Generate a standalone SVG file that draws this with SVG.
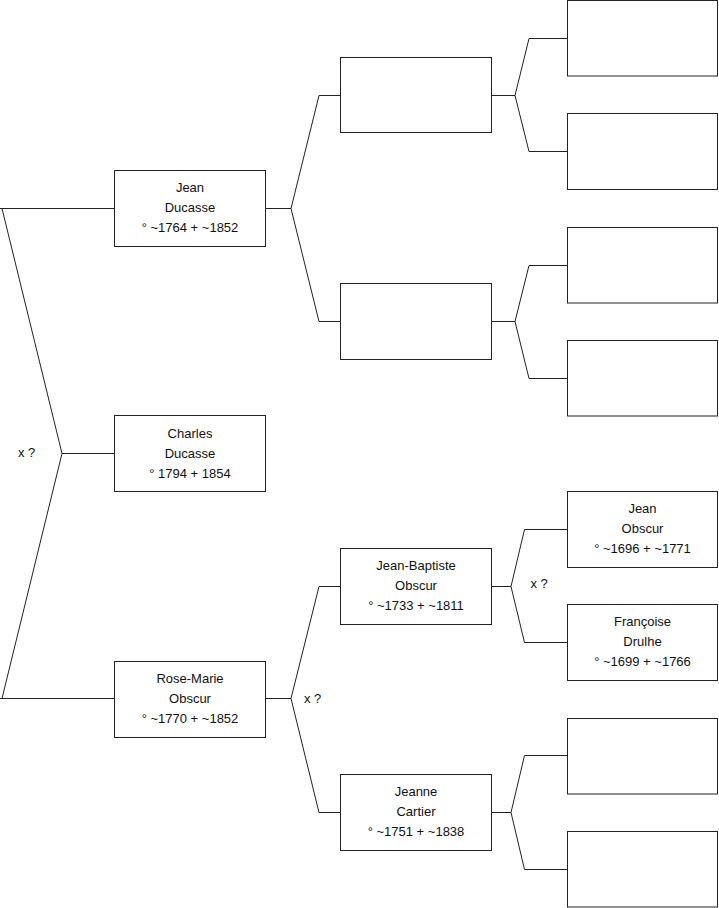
<svg xmlns="http://www.w3.org/2000/svg" width="719" height="908" viewBox="0 0 719 908">
<style>
.box{fill:#fff;stroke:#222;stroke-width:1}
.con{fill:none;stroke:#222;stroke-width:1}
text{font-family:"Liberation Sans",Arial,sans-serif;font-size:13px;fill:#111}
.c{text-anchor:middle}
</style>
<rect width="719" height="908" fill="#fff"/>
<g id="connectors">
<path class="con" d="M114.5,208.5 H0 M2,208.5 L62,453.5 L2,698.5 M0,698.5 H114.5 M62,453.5 H114.5"/>
<path class="con" d="M265.5,208.5 H291 M340.5,95.5 H319 L291,208.5 L319,321.5 H340.5"/>
<path class="con" d="M265.5,698.5 H291 M340.5,586.5 H319 L291,698.5 L319,812.5 H340.5"/>
<path class="con" d="M491.5,95.5 H515 M567.5,38.5 H529 L515,95.5 L529,151.5 H567.5"/>
<path class="con" d="M491.5,321.5 H515 M567.5,265.5 H529 L515,321.5 L529,378.5 H567.5"/>
<path class="con" d="M491.5,586.5 H511 M567.5,529.5 H524.5 L511,586.5 L524.5,642.5 H567.5"/>
<path class="con" d="M491.5,812.5 H511 M567.5,755.5 H524.5 L511,812.5 L524.5,869.5 H567.5"/>
<text x="18" y="457">x ?</text>
<text x="304" y="702.5">x ?</text>
<text x="530.5" y="587.5">x ?</text>
</g>
<g id="n-charles">
<rect class="box" x="114.5" y="415.5" width="151" height="76"/>
<text class="c" x="190" y="437.5">Charles</text>
<text class="c" x="190" y="457.5">Ducasse</text>
<text class="c" x="190" y="477.5">° 1794 + 1854</text>
</g>
<g id="n-jean-ducasse">
<rect class="box" x="114.5" y="170.5" width="151" height="76"/>
<text class="c" x="190" y="191.5">Jean</text>
<text class="c" x="190" y="211.5">Ducasse</text>
<text class="c" x="190" y="231.5">° ~1764 + ~1852</text>
</g>
<g id="n-rose-marie">
<rect class="box" x="114.5" y="661.5" width="151" height="76"/>
<text class="c" x="190" y="682.5">Rose-Marie</text>
<text class="c" x="190" y="702.5">Obscur</text>
<text class="c" x="190" y="722.5">° ~1770 + ~1852</text>
</g>
<g id="n-jd-father"><rect class="box" x="340.5" y="57.5" width="151" height="75"/></g>
<g id="n-jd-mother"><rect class="box" x="340.5" y="283.5" width="151" height="76"/></g>
<g id="n-jean-baptiste">
<rect class="box" x="340.5" y="548.5" width="151" height="76"/>
<text class="c" x="416" y="569.5">Jean-Baptiste</text>
<text class="c" x="416" y="589.5">Obscur</text>
<text class="c" x="416" y="609.5">° ~1733 + ~1811</text>
</g>
<g id="n-jeanne">
<rect class="box" x="340.5" y="774.5" width="151" height="76"/>
<text class="c" x="416" y="795.5">Jeanne</text>
<text class="c" x="416" y="815.5">Cartier</text>
<text class="c" x="416" y="835.5">° ~1751 + ~1838</text>
</g>
<g id="n-g3-1"><rect class="box" x="567.5" y="0.5" width="150" height="75.5"/></g>
<g id="n-g3-2"><rect class="box" x="567.5" y="113.5" width="150" height="76"/></g>
<g id="n-g3-3"><rect class="box" x="567.5" y="227.5" width="150" height="75.5"/></g>
<g id="n-g3-4"><rect class="box" x="567.5" y="340.5" width="150" height="75.5"/></g>
<g id="n-jean-obscur">
<rect class="box" x="567.5" y="491.5" width="150" height="76"/>
<text class="c" x="642.5" y="512.5">Jean</text>
<text class="c" x="642.5" y="532.5">Obscur</text>
<text class="c" x="642.5" y="552.5">° ~1696 + ~1771</text>
</g>
<g id="n-francoise">
<rect class="box" x="567.5" y="604.5" width="150" height="76"/>
<text class="c" x="642.5" y="625.5">Françoise</text>
<text class="c" x="642.5" y="645.5">Drulhe</text>
<text class="c" x="642.5" y="665.5">° ~1699 + ~1766</text>
</g>
<g id="n-g3-7"><rect class="box" x="567.5" y="718.5" width="150" height="75.5"/></g>
<g id="n-g3-8"><rect class="box" x="567.5" y="831.5" width="150" height="75.5"/></g>
</svg>
